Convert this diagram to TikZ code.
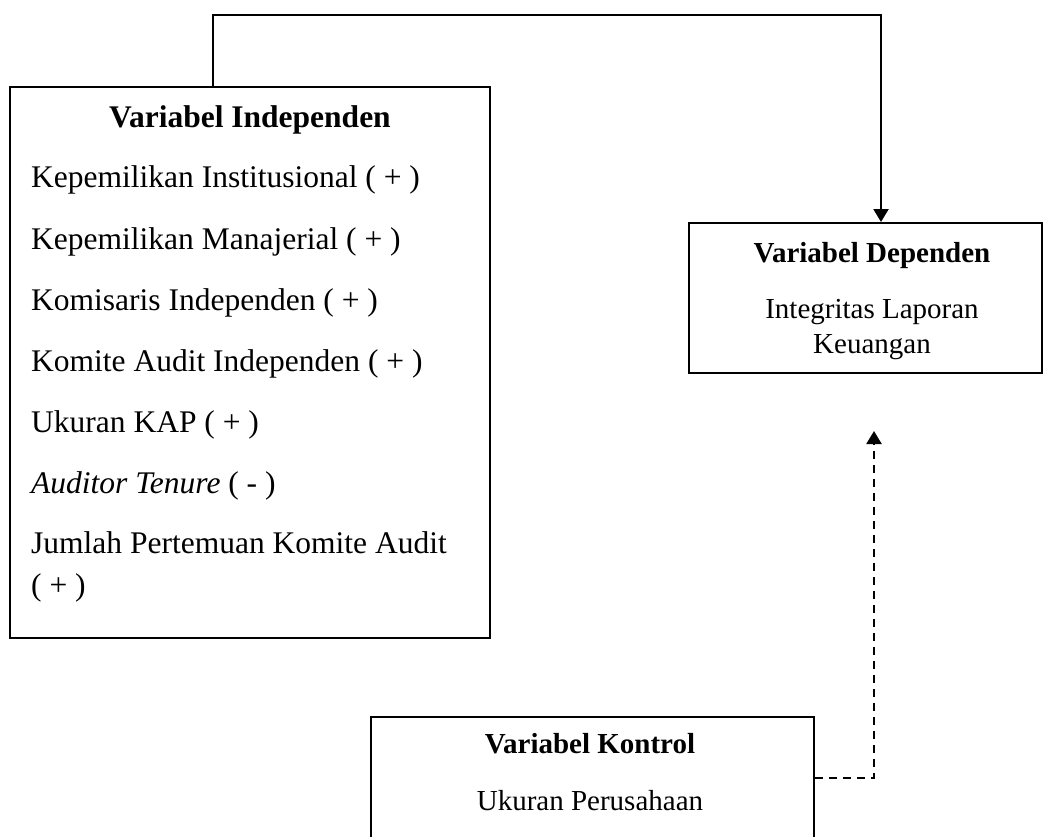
\documentclass[tikz,border=0pt]{standalone}
\usepackage{fontspec}
\setmainfont{Liberation Serif}
\usetikzlibrary{arrows.meta}
\begin{document}
\begin{tikzpicture}[x=1pt,y=-1pt,
  box/.style={draw, line width=2.2pt, rectangle, inner sep=0pt, anchor=north west},
  big/.style={font=\fontsize{31.5}{42}\selectfont, inner sep=0pt},
  small/.style={font=\fontsize{29}{35}\selectfont, inner sep=0pt},
  conn/.style={line width=2.2pt},
  tipx/.style={-{Triangle[width=15pt,length=13pt]}},
  dashx/.style={dash pattern=on 8pt off 6pt}]
\useasboundingbox (0,0) rectangle (1043,836);
\clip (0,0) rectangle (1043,836);
% boxes
\node[box, minimum width=480pt, minimum height=551pt] (ind) at (9,86) {};
\node[box, minimum width=353pt, minimum height=150pt] (dep) at (688,222) {};
\node[box, minimum width=443pt, minimum height=200pt] (ctl) at (370,716) {};
% independent texts
\node[big, anchor=base] (indt) at (250,127) {\textbf{Variabel Independen}};
\node[big, anchor=base west] (i1) at (31,187) {Kepemilikan Institusional ( + )};
\node[big, anchor=base west] (i2) at (31,249) {Kepemilikan Manajerial ( + )};
\node[big, anchor=base west] (i3) at (31,310) {Komisaris Independen ( + )};
\node[big, anchor=base west] (i4) at (31,371) {Komite Audit Independen ( + )};
\node[big, anchor=base west] (i5) at (31,432) {Ukuran KAP ( + )};
\node[big, anchor=base west] (i6) at (31,493) {\textit{Auditor Tenure} ( - )};
\node[big, anchor=base west] (i7) at (31,553) {Jumlah Pertemuan Komite Audit};
\node[big, anchor=base west] (i7b) at (31,595) {( + )};
% dependent texts
\node[small, anchor=base] (dept) at (872,262) {\textbf{Variabel Dependen}};
\node[small, anchor=base] (d1) at (872,318) {Integritas Laporan};
\node[small, anchor=base] (d2) at (872,353) {Keuangan};
% control texts
\node[small, anchor=base] (ctlt) at (590,753) {\textbf{Variabel Kontrol}};
\node[small, anchor=base] (c1) at (590,810) {Ukuran Perusahaan};
% connectors
\coordinate (topL) at (213,15);
\coordinate (topR) at (881,15);
\draw[conn, tipx] (ind.north west -| topL) -- (topL) -- (topR) -- (dep.north west -| topR);
\coordinate (dc) at (874,778);
\coordinate (dt) at (874,431);
\draw[conn, dashx, tipx] (ctl.north east |- dc) -- (dc) -- (dt);
\end{tikzpicture}
\end{document}
